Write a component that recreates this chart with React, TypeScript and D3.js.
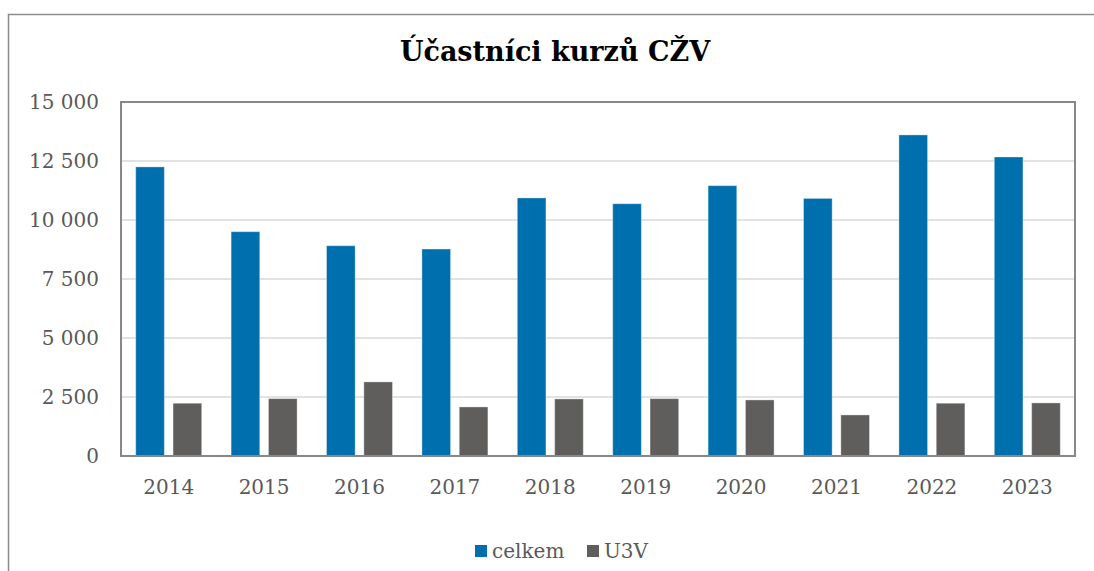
import React from 'react';
import * as d3 from 'd3';

const years = ['2014', '2015', '2016', '2017', '2018', '2019', '2020', '2021', '2022', '2023'];
const celkem = [12250, 9505, 8910, 8770, 10935, 10690, 11455, 10915, 13605, 12670];
const u3v = [2236, 2431, 3140, 2079, 2418, 2431, 2376, 1740, 2236, 2249];
const seriesNames = ['celkem', 'U3V'];
const seriesColors = ['#006FAD', '#5F5E5C'];
const yTicks = [0, 2500, 5000, 7500, 10000, 12500, 15000];

const W = 1094;
const H = 571;
const plot = { left: 121, right: 1075, top: 102, bottom: 456 };
const font = "'DejaVu Serif', Georgia, serif";
const textColor = '#595959';

const fmt = (v: number) => d3.format(',')(v).replace(/,/g, ' ');

export default function App() {
  const x0 = d3.scaleBand<string>().domain(years).range([plot.left, plot.right]);
  const x1 = d3
    .scaleBand<string>()
    .domain(seriesNames)
    .range([0, x0.bandwidth()])
    .paddingInner(0.233)
    .paddingOuter(0.394);
  const y = d3.scaleLinear().domain([0, 15000]).range([plot.bottom, plot.top]);

  const series = [celkem, u3v];

  return (
    <svg
      width={W}
      height={H}
      style={{ position: 'absolute', left: 0, top: 0, background: '#fff' }}
    >
      {/* outer chart frame (cut off at right/bottom) */}
      <rect x={8.5} y={14.5} width={W} height={H} fill="#fff" stroke="#8C8C8C" strokeWidth={1.5} />

      <text
        x={555}
        y={61}
        textAnchor="middle"
        fontFamily={font}
        fontWeight="bold"
        fontSize={27}
        fill="#000"
      >
        Účastníci kurzů CŽV
      </text>

      {/* gridlines */}
      {yTicks
        .filter((t) => t > 0 && t < 15000)
        .map((t) => (
          <line
            key={t}
            x1={plot.left}
            x2={plot.right}
            y1={y(t)}
            y2={y(t)}
            stroke="#D9D9D9"
            strokeWidth={1.5}
          />
        ))}

      {/* bars */}
      {years.map((yr, i) => (
        <g key={yr} transform={`translate(${x0(yr)},0)`}>
          {seriesNames.map((s, j) => (
            <rect
              key={s}
              x={x1(s)}
              y={y(series[j][i])}
              width={x1.bandwidth()}
              height={y(0) - y(series[j][i])}
              fill={seriesColors[j]}
              stroke="rgba(255,255,255,0.35)"
              strokeWidth={1}
            />
          ))}
        </g>
      ))}

      {/* plot area frame */}
      <rect
        x={plot.left}
        y={plot.top}
        width={plot.right - plot.left}
        height={plot.bottom - plot.top}
        fill="none"
        stroke="#878787"
        strokeWidth={2}
      />

      {/* y tick labels */}
      {yTicks.map((t) => (
        <text
          key={t}
          x={99}
          y={y(t)}
          dy="0.36em"
          textAnchor="end"
          fontFamily={font}
          fontSize={20}
          fill={textColor}
        >
          {fmt(t)}
        </text>
      ))}

      {/* x tick labels */}
      {years.map((yr) => (
        <text
          key={yr}
          x={(x0(yr) as number) + x0.bandwidth() / 2}
          y={494}
          textAnchor="middle"
          fontFamily={font}
          fontSize={20}
          fill={textColor}
        >
          {yr}
        </text>
      ))}

      {/* legend */}
      <g>
        <rect x={475} y={545} width={12} height={12} fill={seriesColors[0]} />
        <text x={492} y={558} fontFamily={font} fontSize={20} fill={textColor}>
          {seriesNames[0]}
        </text>
        <rect x={587} y={545} width={12} height={12} fill={seriesColors[1]} />
        <text x={604} y={558} fontFamily={font} fontSize={20} fill={textColor}>
          {seriesNames[1]}
        </text>
      </g>
    </svg>
  );
}
